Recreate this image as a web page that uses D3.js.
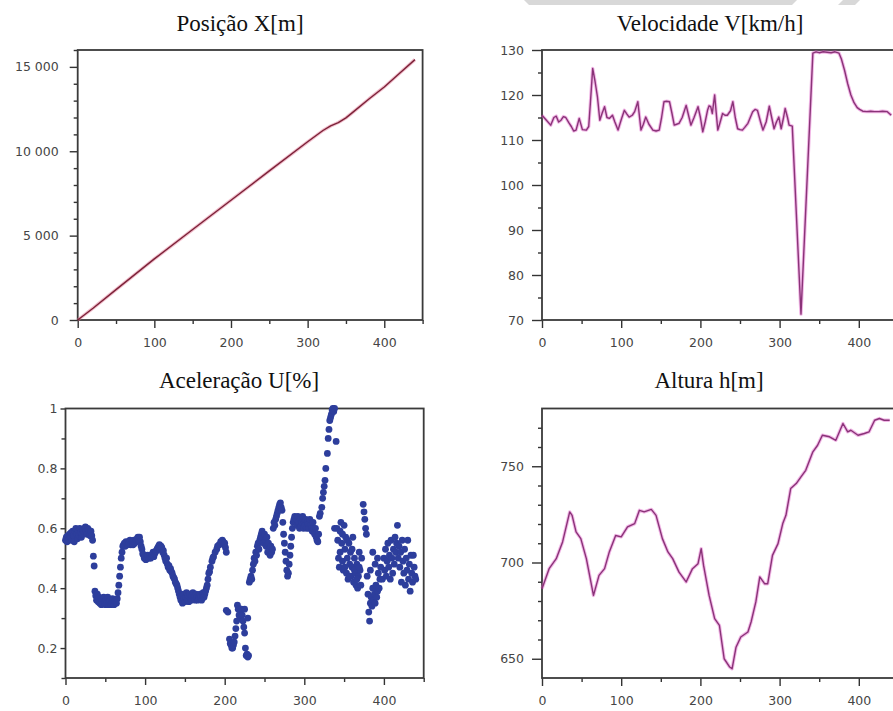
<!DOCTYPE html>
<html>
<head>
<meta charset="utf-8">
<script src="https://cdn.jsdelivr.net/npm/d3@7"></script>
<style>
body { margin: 0; background: #fff; }
.tick text { font-family: "DejaVu Sans", sans-serif; font-size: 12.5px; fill: #454545; }
.title { font-family: "Liberation Serif", "Times New Roman", serif; font-size: 23px; fill: #111; }
</style>
</head>
<body>
<div id="chart"></div>
<script>
// Posição X[m]
var posT = [0, 20, 50, 100, 150, 200, 250, 300, 320, 330, 340, 350, 360, 380, 400, 420, 440];
var posX = [0, 700, 1800, 3620, 5360, 7100, 8840, 10560, 11230, 11500, 11700, 11980, 12350, 13100, 13810, 14620, 15430];

// Velocidade V[km/h]
var velT = [0, 5, 11, 15, 18, 21, 24, 27, 30, 34, 37, 40, 43, 47, 51, 56, 59, 61, 64, 67, 70, 73, 76, 79, 82, 85, 89, 92, 96, 100,
    104, 107, 110, 114, 117, 121, 125, 128, 131, 135, 140, 144, 148, 151, 154, 157, 161, 164, 167, 170, 173, 177, 182, 185, 188,
    192, 197, 200, 203, 206, 209, 211, 213, 215, 218, 220, 222, 225, 228, 231, 234, 238, 241, 244, 247, 250, 253, 256, 260, 263,
    266, 269, 272, 276, 279, 283, 287, 290, 293, 296, 299, 302, 305, 307, 310, 312, 316, 327, 342, 346, 350, 355, 360, 365, 370,
    375, 378, 382, 386, 390, 394, 398, 401, 405, 410, 415, 420, 425, 430, 436, 441];
var velV = [115.5, 114.5, 113.3, 115, 115.3, 114, 114.4, 115.2, 115, 113.8, 113, 112, 112.2, 114.8, 112.3, 112.2, 113, 118, 125.9, 123,
    119.6, 114.4, 116, 117.4, 115, 114.8, 115.5, 114, 112.2, 114.5, 116.6, 115.8, 115.1, 115.5, 116.3, 118.5, 112.2, 113.5, 115.1,
    113.5, 112.2, 112, 112.2, 115, 118.5, 118.6, 118.5, 116, 113.3, 113.5, 113.7, 115, 117.7, 115.5, 113.3, 115, 117.4, 115, 111.8,
    114, 116.6, 117.6, 117.4, 115.9, 120, 116, 112.2, 114, 115.9, 115.5, 115.5, 116.5, 118.5, 115, 112.5, 112.3, 112.2, 112.8,
    113.7, 115, 116.3, 116.8, 116.6, 114, 112.2, 114, 117.5, 115, 112.5, 114, 115.1, 112.5, 115, 117, 115, 113.3, 113.1, 71.3,
    129.3, 129.6, 129.4, 129.6, 129.5, 129.4, 129.6, 129.3, 128, 125.5, 122.5, 120, 118.3, 117.2, 116.8, 116.4, 116.3, 116.4,
    116.3, 116.3, 116.4, 116.3, 115.5];

// Aceleração U[%]  [t, u]
var accel = [
    [0,.56],[1,.57],[2,.555],[3,.575],[4,.56],[5,.58],[6,.57],[7,.585],[8,.56],[9,.59],[10,.575],[11,.555],[12,.59],[13,.6],
    [14,.58],[15,.565],[16,.59],[17,.575],[18,.6],[19,.585],[20,.57],[21,.58],[22,.595],[23,.59],[24,.6],[25,.605],[26,.59],
    [27,.58],[28,.6],[29,.595],[30,.58],[31,.575],[32,.59],[33,.575],[34,.56],[35,.507],[36,.474],
    [37,.39],[38,.375],[39,.36],[40,.38],[41,.355],[42,.37],[43,.35],[44,.365],[45,.345],[46,.36],[47,.35],[48,.37],[49,.355],
    [50,.345],[51,.36],[52,.35],[53,.37],[54,.345],[55,.355],[56,.36],[57,.345],[58,.35],[59,.365],[60,.35],[61,.345],[62,.355],
    [63,.36],[64,.35],[65,.365],[66,.385],[67,.41],[68,.44],[69,.47],[70,.5],[71,.52],[72,.54],
    [73,.545],[74,.55],[75,.54],[76,.555],[77,.55],[78,.545],[79,.555],[80,.55],[81,.56],[82,.545],[83,.55],[84,.555],[85,.545],
    [86,.56],[87,.55],[88,.555],[89,.56],[90,.565],[91,.57],[92,.56],[93,.57],[94,.555],[95,.54],
    [96,.53],[97,.515],[98,.51],[99,.5],[100,.505],[101,.495],[102,.5],[103,.51],[104,.505],[105,.5],[106,.51],[107,.5],
    [108,.505],[109,.51],[110,.52],[111,.505],[112,.515],[113,.52],[114,.525],[115,.53],[116,.535],[117,.54],[118,.545],
    [119,.53],[120,.54],[121,.535],[122,.52],[123,.525],[124,.51],
    [125,.5],[126,.49],[127,.5],[128,.48],[129,.47],[130,.475],[131,.46],[132,.465],[133,.455],[134,.45],[135,.44],[136,.435],
    [137,.43],[138,.42],[139,.415],[140,.41],[141,.4],[142,.39],[143,.38],[144,.37],
    [145,.36],[146,.375],[147,.35],[148,.38],[149,.365],[150,.355],[151,.37],[152,.385],[153,.36],[154,.375],[155,.355],
    [156,.38],[157,.37],[158,.36],[159,.375],[160,.385],[161,.365],[162,.37],[163,.36],[164,.38],[165,.37],[166,.36],
    [167,.375],[168,.365],[169,.38],[170,.37],[171,.36],[172,.375],[173,.385],[174,.37],[175,.38],[176,.39],[177,.4],
    [178,.41],[179,.43],[180,.45],[181,.455],[182,.47],[184,.49],[185,.5],[186,.505],[188,.52],[190,.53],[191,.54],[193,.545],
    [195,.555],[197,.56],[198,.555],[199,.545],[200,.55],[201,.535],[202,.52],
    [202,.326],[204,.32],[206,.23],[207,.215],[208,.21],[209,.2],[210,.2],[211,.21],[212,.22],[213,.24],[214,.265],[215,.29],
    [216,.343],[217,.33],[218,.31],[219,.3],[220,.33],[221,.33],[222,.31],[223,.29],[224,.27],[225,.25],[225,.33],[226,.2],
    [227,.175],[228,.18],[229,.17],[229,.3],[230,.175],
    [231,.42],[232,.43],[233,.44],[234,.43],[235,.46],[236,.48],[237,.5],[238,.49],[239,.52],[240,.51],[241,.54],[242,.55],
    [243,.53],[244,.56],[245,.57],[246,.58],[247,.59],[248,.57],[249,.55],[250,.58],[251,.56],[252,.54],[253,.57],[254,.52],
    [255,.55],[256,.53],[257,.51],[258,.54],[259,.52],[260,.53],
    [261,.6],[262,.62],[263,.61],[264,.63],[265,.64],[266,.65],[267,.66],[268,.67],[269,.68],[270,.685],[271,.67],[272,.66],
    [273,.62],[274,.58],[275,.55],[276,.52],[277,.49],[278,.46],[279,.44],[280,.45],
    [281,.48],[282,.51],[283,.54],[284,.57],[285,.6],[286,.62],[287,.63],[288,.64],[289,.62],[290,.63],
    [291,.61],[292,.64],[293,.62],[294,.6],[295,.63],[296,.61],[297,.62],[298,.64],[299,.6],[300,.62],[301,.61],[302,.63],
    [303,.6],[304,.62],[305,.615],[306,.6],[307,.63],[308,.61],[309,.6],[310,.59],[311,.62],[312,.6],[313,.58],[314,.6],
    [315,.57],[316,.56],[317,.555],[318,.58],
    [319,.64],[320,.65],[322,.67],[323,.7],[324,.72],[325,.74],[326,.76],[327,.8],[329,.85],[330,.9],[331,.93],[332,.96],
    [333,.97],[334,.98],[335,.995],[336,1],[337,.99],[338,1],[340,.89],[338,.6],
    [341,.6],[342,.56],[343,.5],[344,.47],[345,.59],[346,.62],[347,.55],[348,.49],[349,.46],[350,.61],[351,.53],[352,.57],
    [353,.45],[354,.5],[355,.43],[356,.55],[357,.48],[358,.52],[359,.44],[360,.47],[361,.57],[362,.42],[363,.5],[364,.45],
    [365,.41],[366,.48],[367,.4],[368,.44],[369,.52],[370,.46],[371,.41],[372,.5],
    [345,.52],[348,.58],[351,.47],[354,.56],[357,.44],[360,.53],[363,.46],[366,.43],[369,.47],
    [374,.68],[375,.655],[376,.63],[377,.6],[378,.58],
    [379,.44],[380,.38],[381,.32],[382,.29],[383,.35],[384,.37],[385,.34],[386,.4],[387,.36],[388,.38],[389,.35],[390,.41],
    [391,.37],[392,.39],[393,.45],[394,.4],[395,.43],[383,.46],[386,.52],[389,.48],[392,.5],[396,.47],[398,.43],[400,.5],
    [401,.46],[402,.53],[403,.44],[404,.49],[405,.55],[406,.47],[407,.51],[408,.43],[409,.56],[410,.5],[411,.45],[412,.53],
    [413,.48],[414,.57],[415,.52],[416,.55],[417,.61],[418,.5],[419,.54],[420,.47],
    [421,.52],[422,.42],[423,.56],[424,.49],[425,.45],[426,.53],[427,.41],[428,.5],[429,.46],[430,.56],[431,.43],[432,.48],
    [433,.39],[434,.51],[435,.45],[436,.42],[437,.51],[438,.47],[439,.44],[440,.43]
];

// Altura h[m]
var altT = [0, 9, 18, 26, 35, 38, 43, 49, 56, 65, 72, 79, 85, 93, 100, 108, 117, 123, 129, 138, 144, 152, 159, 165, 173, 182,
    190, 197, 201, 204, 211, 218, 224, 230, 237, 240, 245, 251, 260, 264, 270, 275, 281, 285, 291, 298, 304, 308, 314, 321, 327,
    333, 342, 348, 354, 363, 371, 380, 386, 390, 399, 407, 413, 420, 426, 432, 439];
var altH = [686.4, 696.8, 702, 710.7, 726.3, 724.5, 715.9, 712.4, 702, 682.9, 693.3, 696.8, 705.5, 714, 713.3, 718.5, 720.2,
    727.1, 726.3, 727.6, 724.5, 712.4, 705.5, 702, 695, 689.9, 696.8, 699.4, 707.2, 698.5, 682.9, 670.8, 667.3, 650, 645.7,
    644.8, 656, 661.3, 663.9, 669.1, 679.5, 692.5, 689, 689, 703.7, 709.8, 720.2, 724.5, 738.4, 741, 744.5, 747.9, 757.5,
    760.9, 766.1, 765.3, 763.5, 772.2, 767.9, 768.7, 766.1, 767, 767.9, 773.9, 774.8, 773.9, 773.9];

// ticks
var xMajor = [0, 100, 200, 300, 400];
var xMinor = [50, 150, 250, 350, 450];
var posTicks = [0, 5000, 10000, 15000];
var velTicks = [70, 80, 90, 100, 110, 120, 130];
var accTicks = [0.2, 0.4, 0.6, 0.8, 1];
var altTicks = [650, 700, 750];

var svg = d3.select("#chart").append("svg")
    .attr("width", 893)
    .attr("height", 711);

// grey strip at the top of the page
svg.append("path").attr("d", "M524,0L797,0L792,5L529,5Z").attr("fill", "#d8d8d8");
svg.append("path").attr("d", "M843,0L860,0L855,5L838,5Z").attr("fill", "#d8d8d8");

function spaceFmt(d) { return d3.format(",")(d).replace(/,/g, " "); }

function drawPanel(p) {
    var g = svg.append("g").attr("color", "#333");

    var x = d3.scaleLinear().domain([0, 450]).range([p.left, p.right]);
    var y = d3.scaleLinear().domain(p.yDomain).range([p.bottom, p.top]);

    // minor ticks
    g.append("g").attr("transform", "translate(0," + p.bottom + ")")
        .call(d3.axisBottom(x).tickValues(xMinor).tickSize(4).tickFormat(""))
        .select(".domain").remove();
    g.append("g").attr("transform", "translate(" + p.left + ",0)")
        .call(d3.axisLeft(y).tickValues(p.yMinor).tickSize(4).tickFormat(""))
        .select(".domain").remove();

    // major ticks
    g.append("g").attr("transform", "translate(0," + p.bottom + ")")
        .call(d3.axisBottom(x).tickValues(xMajor).tickSize(p.xTick).tickPadding(18 - p.xTick))
        .select(".domain").remove();
    g.append("g").attr("transform", "translate(" + p.left + ",0)")
        .call(d3.axisLeft(y).tickValues(p.yTicks).tickSize(p.yTick).tickPadding(p.yPad).tickFormat(p.fmt))
        .select(".domain").remove();
    g.selectAll(".tick line").attr("stroke-width", 1.4);

    // frame
    g.append("rect")
        .attr("x", p.left).attr("y", p.top)
        .attr("width", p.right - p.left).attr("height", p.bottom - p.top)
        .attr("fill", "none").attr("stroke", "#3a3a3a").attr("stroke-width", 1.8);

    svg.append("text").attr("class", "title")
        .attr("x", p.titleX).attr("y", p.titleY)
        .attr("text-anchor", "middle")
        .text(p.title);

    return { x: x, y: y, g: g };
}

function drawLine(panel, ts, vs, color, halo) {
    var pts = ts.map(function (t, i) { return [t, vs[i]]; });
    var line = d3.line()
        .x(function (d) { return panel.x(d[0]); })
        .y(function (d) { return panel.y(d[1]); });
    panel.g.append("path").datum(pts)
        .attr("d", line).attr("fill", "none")
        .attr("stroke", halo).attr("stroke-width", 3.4).attr("stroke-opacity", 0.45)
        .attr("stroke-linejoin", "round");
    panel.g.append("path").datum(pts)
        .attr("d", line).attr("fill", "none")
        .attr("stroke", color).attr("stroke-width", 1.4)
        .attr("stroke-linejoin", "round");
}

var p1 = drawPanel({
    left: 77.7, right: 422.6, top: 50, bottom: 320, yDomain: [0, 16000],
    yTicks: posTicks, yMinor: d3.range(1000, 16001, 1000).filter(function (d) { return d % 5000; }),
    fmt: spaceFmt, xTick: 8, yTick: 8, yPad: 11,
    title: "Posição X[m]", titleX: 240, titleY: 31
});
drawLine(p1, posT, posX, "#7c2238", "#e07090");

var p2 = drawPanel({
    left: 542, right: 898.4, top: 50, bottom: 320, yDomain: [70, 130],
    yTicks: velTicks, yMinor: [75, 85, 95, 105, 115, 125],
    fmt: d3.format("d"), xTick: 8, yTick: 10, yPad: 8,
    title: "Velocidade V[km/h]", titleX: 710, titleY: 31
});
drawLine(p2, velT, velV, "#8a3378", "#e060c8");

var p3 = drawPanel({
    left: 65.5, right: 423.7, top: 408.5, bottom: 678, yDomain: [0.1, 1],
    yTicks: accTicks, yMinor: [0.1, 0.3, 0.5, 0.7, 0.9],
    fmt: function (d) { return String(d); }, xTick: 7, yTick: 5, yPad: 3,
    title: "Aceleração U[%]", titleX: 239, titleY: 388
});
p3.g.selectAll("circle.acc").data(accel).enter()
    .append("circle").attr("class", "acc")
    .attr("cx", function (d) { return p3.x(d[0]); })
    .attr("cy", function (d) { return p3.y(d[1]); })
    .attr("r", 3.4)
    .attr("fill", "#2d3e9c");

var p4 = drawPanel({
    left: 542, right: 898.4, top: 408.5, bottom: 678, yDomain: [640, 780],
    yTicks: altTicks, yMinor: [660, 670, 680, 690, 710, 720, 730, 740, 760, 770],
    fmt: d3.format("d"), xTick: 8, yTick: 10, yPad: 8,
    title: "Altura h[m]", titleX: 709, titleY: 388
});
drawLine(p4, altT, altH, "#8a3378", "#e060c8");
</script>
</body>
</html>
